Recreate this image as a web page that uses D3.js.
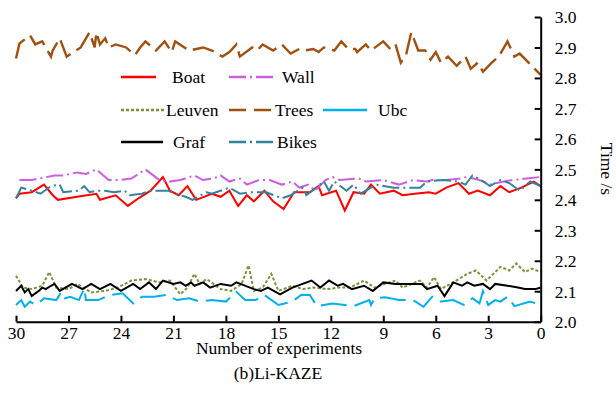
<!DOCTYPE html>
<html>
<head>
<meta charset="utf-8">
<script src="https://cdn.jsdelivr.net/npm/d3@7"></script>
<style>
  body { margin: 0; background: #fff; }
</style>
</head>
<body>
<svg id="chart" width="616" height="396"></svg>
<script>
// [experiment, time in s]
const boat = [[30,2.405],[29.8,2.42],[29.1,2.425],[28.4,2.45],[27.9,2.415],[27.6,2.40],[26.5,2.41],[25.4,2.42],[25.2,2.40],[24.3,2.415],[23.6,2.38],[23.0,2.405],[22.3,2.43],[21.6,2.475],[21.2,2.43],[20.7,2.415],[20.2,2.445],[19.7,2.40],[18.8,2.42],[18.3,2.41],[17.8,2.43],[17.3,2.38],[16.8,2.415],[16.4,2.395],[15.8,2.43],[15.3,2.395],[14.7,2.37],[14.1,2.425],[13.2,2.425],[12.7,2.445],[12.5,2.415],[11.7,2.43],[11.2,2.365],[10.7,2.425],[10.1,2.42],[9.7,2.45],[9.2,2.42],[8.4,2.43],[7.9,2.415],[7.2,2.42],[6.4,2.425],[6.0,2.42],[5.4,2.44],[4.7,2.455],[4.1,2.42],[3.6,2.43],[2.9,2.415],[2.3,2.445],[1.8,2.425],[1.1,2.44],[0.4,2.46],[0,2.445]];
const wall = [[29.8,2.465],[29.1,2.465],[27.8,2.48],[27.3,2.48],[26.5,2.49],[26.0,2.485],[25.4,2.50],[25.2,2.49],[24.7,2.465],[24.1,2.465],[23.4,2.47],[22.6,2.50],[21.8,2.465],[21.2,2.46],[20.6,2.465],[19.8,2.48],[19.3,2.465],[18.7,2.47],[18.3,2.48],[17.8,2.46],[17.2,2.47],[16.8,2.45],[16.1,2.465],[15.5,2.465],[14.8,2.45],[14.2,2.46],[13.8,2.44],[13.3,2.45],[12.9,2.43],[12.3,2.465],[11.9,2.475],[11.5,2.465],[10.4,2.47],[10.0,2.46],[9.0,2.465],[8.1,2.45],[7.3,2.465],[6.5,2.46],[6.2,2.465],[5.4,2.465],[4.6,2.47],[4.2,2.475],[3.5,2.465],[2.9,2.45],[2.1,2.46],[1.6,2.465],[0.8,2.47],[0,2.475]];
const leuven = [[30,2.151],[29.6,2.112],[29.1,2.107],[28.5,2.118],[28.1,2.163],[27.7,2.112],[27.0,2.107],[26.5,2.124],[25.7,2.096],[24.9,2.101],[24.2,2.112],[23.4,2.135],[22.6,2.140],[21.8,2.129],[21.2,2.135],[20.6,2.090],[20.2,2.112],[19.8,2.157],[19.5,2.124],[19.1,2.140],[18.3,2.107],[17.7,2.101],[17.1,2.124],[16.7,2.185],[16.4,2.101],[15.9,2.112],[15.4,2.157],[15.0,2.101],[14.2,2.118],[13.6,2.107],[13.0,2.112],[12.2,2.107],[11.5,2.112],[10.9,2.112],[10.1,2.135],[9.5,2.112],[8.9,2.124],[8.3,2.135],[7.9,2.112],[6.9,2.135],[6.5,2.112],[6.1,2.146],[5.7,2.107],[5.0,2.129],[4.2,2.157],[3.7,2.168],[3.1,2.135],[2.3,2.180],[1.8,2.168],[1.4,2.191],[0.9,2.163],[0.5,2.174],[0,2.163]];
const trees = [[30,2.864],[29.8,2.913],[29.2,2.94],[28.9,2.91],[28.5,2.92],[28.0,2.87],[27.9,2.89],[27.5,2.93],[27.1,2.87],[26.3,2.90],[25.8,2.95],[25.5,2.90],[25.4,2.95],[25.2,2.91],[24.9,2.93],[24.7,2.90],[24.3,2.91],[23.7,2.90],[23.2,2.875],[22.9,2.90],[22.6,2.92],[22.0,2.89],[21.5,2.92],[21.1,2.885],[20.9,2.92],[20.1,2.89],[19.3,2.90],[18.8,2.89],[18.2,2.87],[17.8,2.885],[17.4,2.91],[17.2,2.87],[16.5,2.90],[16.2,2.89],[15.9,2.91],[15.3,2.89],[14.8,2.91],[14.3,2.88],[13.8,2.895],[13.5,2.89],[13.0,2.895],[12.7,2.885],[12.4,2.90],[11.8,2.89],[11.4,2.92],[11.0,2.895],[10.6,2.895],[10.5,2.885],[10.0,2.91],[9.7,2.89],[9.0,2.92],[8.6,2.895],[8.3,2.91],[8.0,2.85],[7.7,2.875],[7.4,2.95],[7.0,2.89],[6.6,2.89],[6.3,2.86],[6.0,2.885],[5.7,2.85],[5.3,2.87],[4.8,2.84],[4.3,2.87],[4.0,2.83],[3.6,2.85],[3.3,2.82],[2.8,2.85],[2.4,2.87],[1.9,2.92],[1.5,2.87],[1.2,2.88],[0,2.81]];
const ubc = [[30,2.055],[29.7,2.071],[29.5,2.049],[29.2,2.066],[28.9,2.055],[28.5,2.071],[28.4,2.077],[27.7,2.071],[27.4,2.098],[27.2,2.077],[26.9,2.082],[26.4,2.071],[26.1,2.11],[26.0,2.071],[25.3,2.071],[24.6,2.088],[23.9,2.093],[23.3,2.06],[22.8,2.082],[22.1,2.082],[21.4,2.088],[20.8,2.071],[20.1,2.077],[19.5,2.066],[18.8,2.071],[18.0,2.066],[17.4,2.098],[16.9,2.071],[16.3,2.071],[15.8,2.088],[15.0,2.055],[14.2,2.066],[13.7,2.088],[13.2,2.088],[12.8,2.051],[11.9,2.06],[10.7,2.051],[9.8,2.071],[9.7,2.055],[9.5,2.077],[8.9,2.08],[8.1,2.071],[7.3,2.071],[6.7,2.049],[6.2,2.082],[5.7,2.066],[5.0,2.071],[4.4,2.055],[3.9,2.077],[3.5,2.06],[3.3,2.10],[3.0,2.055],[2.6,2.071],[2.3,2.066],[1.9,2.082],[1.5,2.051],[0.6,2.066],[0,2.055]];
const graf = [[30,2.101],[29.7,2.118],[29.5,2.096],[29.3,2.107],[29.1,2.084],[28.7,2.101],[28.5,2.112],[28.3,2.107],[28.0,2.118],[27.8,2.124],[27.5,2.101],[26.8,2.124],[26.2,2.107],[25.7,2.124],[25.2,2.107],[24.6,2.124],[24.0,2.101],[23.3,2.124],[22.9,2.107],[22.4,2.129],[22.0,2.107],[21.6,2.135],[21.0,2.124],[20.6,2.129],[20.3,2.118],[20.0,2.129],[19.8,2.118],[19.3,2.129],[18.9,2.112],[18.3,2.124],[17.7,2.118],[17.4,2.129],[16.4,2.107],[16.0,2.101],[15.6,2.112],[14.9,2.090],[14.2,2.112],[13.1,2.135],[12.6,2.112],[12.1,2.135],[11.6,2.118],[11.3,2.124],[10.8,2.107],[10.1,2.118],[9.6,2.101],[9.0,2.129],[8.3,2.124],[7.6,2.124],[6.8,2.124],[6.5,2.107],[5.9,2.118],[5.5,2.084],[5.0,2.129],[4.5,2.118],[4.2,2.129],[3.8,2.118],[3.3,2.124],[2.9,2.107],[2.6,2.124],[1.9,2.118],[1.3,2.112],[0.9,2.107],[0.3,2.107],[0,2.112]];
const bikes = [[30,2.405],[29.7,2.44],[29.1,2.43],[28.6,2.42],[28.0,2.445],[27.5,2.45],[27.3,2.425],[26.4,2.43],[26.1,2.445],[25.8,2.425],[25.4,2.43],[24.9,2.43],[24.4,2.425],[23.8,2.43],[23.5,2.415],[22.8,2.42],[22.4,2.43],[21.3,2.43],[20.9,2.42],[20.3,2.41],[19.9,2.40],[19.1,2.425],[18.8,2.42],[17.8,2.44],[17.2,2.42],[16.5,2.425],[15.7,2.425],[14.8,2.405],[14.3,2.415],[13.6,2.44],[13.4,2.415],[12.4,2.46],[12.1,2.43],[11.8,2.46],[11.1,2.43],[10.7,2.45],[10.3,2.42],[9.4,2.45],[8.4,2.44],[6.9,2.44],[6.5,2.46],[5.6,2.465],[4.7,2.46],[4.3,2.45],[3.9,2.48],[3.4,2.465],[2.9,2.445],[2.3,2.465],[1.8,2.455],[1.2,2.43],[0.6,2.46],[0,2.445]];

const xTicks = [30, 27, 24, 21, 18, 15, 12, 9, 6, 3, 0];
const yTicks = [2.0, 2.1, 2.2, 2.3, 2.4, 2.5, 2.6, 2.7, 2.8, 2.9, 3.0];

const series = [
  { name: "Boat",   data: boat,   color: "#ff0000", dash: null,       legendDash: null },
  { name: "Wall",   data: wall,   color: "#cc5ee0", dash: "17,4,2,4", legendDash: "17,4,2,4" },
  { name: "Leuven", data: leuven, color: "#77933c", dash: "3,2",      legendDash: "3,2" },
  { name: "Trees",  data: trees,  color: "#a0500f", dash: "22,7",     legendDash: "17,8" },
  { name: "Ubc",    data: ubc,    color: "#00b0f0", dash: "26,8",     legendDash: null },
  { name: "Graf",   data: graf,   color: "#000000", dash: null,       legendDash: null },
  { name: "Bikes",  data: bikes,  color: "#31849b", dash: "17,4,2,4", legendDash: "17,4,2,4" }
];

// legend layout: [sample start, sample end, text x, y]
const legendPos = {
  Boat:   [121, 156, 172, 77],
  Wall:   [229, 273, 282, 77],
  Leuven: [121, 165, 166, 110],
  Trees:  [229, 273, 275, 110],
  Ubc:    [323, 367, 378, 110],
  Graf:   [121, 163, 173, 142],
  Bikes:  [229, 273, 277, 142]
};

const FONT = "'Liberation Serif', 'Times New Roman', Times, serif";

const svg = d3.select("#chart")
  .attr("font-family", FONT)
  .attr("font-size", 17.5);

const x = d3.scaleLinear().domain([30, 0]).range([16, 540.7]);
const y = d3.scaleLinear().domain([2.0, 3.0]).range([321.7, 17]);

const line = d3.line()
  .x(d => x(d[0]))
  .y(d => y(d[1]));

series.forEach(s => {
  svg.append("path")
    .datum(s.data)
    .attr("d", line)
    .attr("fill", "none")
    .attr("stroke", s.color)
    .attr("stroke-width", s.name === "Trees" ? 2.4 : 2)
    .attr("stroke-dasharray", s.dash);
});

// axes
const xAxis = svg.append("g")
  .attr("transform", `translate(0,${y(2.0)})`)
  .call(d3.axisBottom(x).tickValues(xTicks).tickSize(-6).tickSizeOuter(0).tickFormat(d3.format("d")));
xAxis.attr("font-family", FONT).attr("font-size", 17.5);
xAxis.selectAll("text").attr("y", 17).attr("dy", null);

const yAxis = svg.append("g")
  .attr("transform", `translate(${x(0)},0)`)
  .call(d3.axisRight(y).tickValues(yTicks).tickSize(-6).tickSizeOuter(0).tickFormat(d3.format(".1f")));
yAxis.attr("font-family", FONT).attr("font-size", 17.5);
yAxis.selectAll("text").attr("x", 14).attr("dy", "0.34em");

svg.selectAll(".domain, .tick line").attr("stroke", "#000").attr("stroke-width", 2);

// legend
series.forEach(s => {
  const p = legendPos[s.name];
  svg.append("line")
    .attr("x1", p[0]).attr("x2", p[1])
    .attr("y1", p[3]).attr("y2", p[3])
    .attr("stroke", s.color)
    .attr("stroke-width", 2.4)
    .attr("stroke-dasharray", s.legendDash);
  svg.append("text")
    .attr("x", p[2]).attr("y", p[3] + 6)
    .text(s.name);
});

// titles
svg.append("text")
  .attr("x", 279).attr("y", 354)
  .attr("text-anchor", "middle")
  .text("Number of experiments");

svg.append("text")
  .attr("x", 278).attr("y", 379)
  .attr("text-anchor", "middle")
  .text("(b)Li-KAZE");

svg.append("text")
  .attr("transform", "translate(601,169) rotate(90)")
  .attr("text-anchor", "middle")
  .text("Time /s");
</script>
</body>
</html>
